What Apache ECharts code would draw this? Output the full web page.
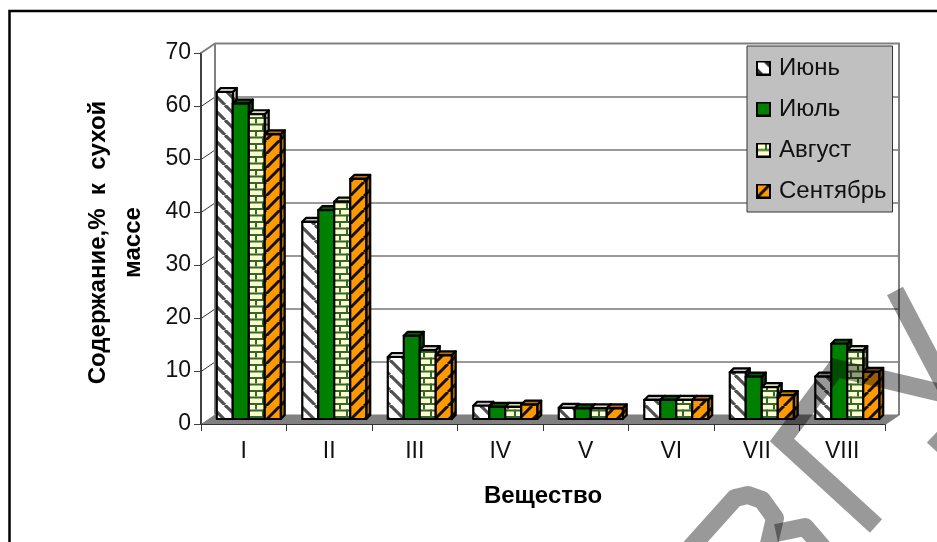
<!DOCTYPE html>
<html><head><meta charset="utf-8">
<style>html,body{margin:0;padding:0;background:#fff}#c{width:937px;height:542px}</style>
<script src="https://cdn.jsdelivr.net/npm/echarts@6/dist/echarts.min.js"></script>
</head><body><div id="c"></div>
<script>
const categories = ['I','II','III','IV','V','VI','VII','VIII'];
const seriesNames = ['Июнь','Июль','Август','Сентябрь'];
const june      = [61.7, 37.2, 11.7, 2.5, 2.1, 3.6, 8.8, 8.0];
const july      = [59.5, 39.4, 15.7, 2.3, 2.0, 3.6, 8.0, 14.2];
const august    = [57.5, 41.0, 13.0, 2.3, 2.0, 3.6, 6.0, 13.0];
const september = [53.7, 45.3, 12.0, 2.7, 2.0, 3.6, 4.5, 8.9];
const seriesValues = [june, july, august, september];
const FONT = '"Liberation Sans", Arial, sans-serif';

function tile(w, h, draw) {
  const c = document.createElement('canvas'); c.width = w; c.height = h;
  draw(c.getContext('2d'), w, h); return c;
}
function stripes(base, ink, dir, lw, size) {
  return tile(size, size, (g, w, h) => {
    g.fillStyle = base; g.fillRect(0, 0, w, h);
    g.strokeStyle = ink; g.lineWidth = lw;
    for (let i = -1; i <= 1; i++) {
      g.beginPath();
      if (dir > 0) { g.moveTo(i * w, 0); g.lineTo(i * w + w, h); }
      else { g.moveTo(i * w + w, 0); g.lineTo(i * w, h); }
      g.stroke();
    }
  });
}
function bricks(base, ink) {
  return tile(14, 13, (g, w, h) => {
    g.fillStyle = base; g.fillRect(0, 0, w, h);
    g.fillStyle = ink;
    g.fillRect(0, 0, w, 2); g.fillRect(0, 6.5, w, 2);
    g.fillRect(3, 0, 2, 6.5); g.fillRect(10, 6.5, 2, 6.5);
  });
}
const faces = [
  { front: stripes('#ffffff', '#505050', 1, 3.2, 15), top: '#c4c4c4', side: stripes('#b8b8b8', '#404040', 1, 3.2, 15) },
  { front: '#008000', top: '#006000', side: '#004800' },
  { front: bricks('#ffffcc', '#336633'), top: '#d8dcb0', side: bricks('#a8a88c', '#2a4a2a') },
  { front: stripes('#ff9900', '#111111', -1, 3, 14), top: '#b87000', side: stripes('#b06a00', '#111111', -1, 3, 14) }
].map(f => ({
  front: f.front.getContext ? { image: f.front, repeat: 'repeat' } : f.front,
  top: f.top,
  side: f.side.getContext ? { image: f.side, repeat: 'repeat' } : f.side
}));

function legendIcon(draw) {
  const c = tile(15, 15, (g, w, h) => {
    draw(g, w, h);
    g.strokeStyle = '#000'; g.lineWidth = 2; g.strokeRect(1, 1, w - 2, h - 2);
  });
  return 'image://' + c.toDataURL();
}
const icons = [
  legendIcon((g, w, h) => { g.fillStyle = '#fff'; g.fillRect(0,0,w,h);
    g.fillStyle='#303030'; g.beginPath(); g.moveTo(6,0); g.lineTo(15,0); g.lineTo(15,9); g.closePath(); g.fill();
    g.beginPath(); g.moveTo(0,6); g.lineTo(9,15); g.lineTo(0,15); g.closePath(); g.fill(); }),
  legendIcon((g, w, h) => { g.fillStyle = '#008000'; g.fillRect(0,0,w,h); }),
  legendIcon((g, w, h) => { g.fillStyle = '#ffffcc'; g.fillRect(0,0,w,h); g.fillStyle='#336633'; g.fillRect(0,6.5,w,2); g.fillRect(9,1,2,6); }),
  legendIcon((g, w, h) => { g.fillStyle = '#ff9900'; g.fillRect(0,0,w,h); g.strokeStyle='#111'; g.lineWidth=3; g.beginPath(); g.moveTo(15,0); g.lineTo(0,15); g.stroke(); })
];

const PLANE = 5, DEPTH = 4, BAR_FRACTION = 0.187;
const WALL_DX = 14, WALL_DY = 9.5;

function renderBar(s) {
  return function (params, api) {
    const k = api.value(0), v = api.value(1);
    const base = api.coord([k, 0]), head = api.coord([k, v]);
    const w = api.size([1, 0])[0] * BAR_FRACTION;
    const x = base[0] + PLANE - 2 * w + s * w;
    const y0 = base[1] - PLANE, yt = head[1] - PLANE;
    const line = { stroke: '#000', lineWidth: 2.2, lineJoin: 'round' };
    return { type: 'group', children: [
      { type: 'polygon', shape: { points: [[x + w, yt], [x + w + DEPTH, yt - DEPTH], [x + w + DEPTH, y0 - DEPTH], [x + w, y0]] }, style: { fill: faces[s].side, ...line } },
      { type: 'polygon', shape: { points: [[x, yt], [x + DEPTH, yt - DEPTH], [x + w + DEPTH, yt - DEPTH], [x + w, yt]] }, style: { fill: faces[s].top, ...line } },
      { type: 'rect', shape: { x: x, y: yt, width: w, height: y0 - yt }, style: { fill: faces[s].front, ...line } }
    ] };
  };
}
function renderFrame(params, api) {
  const cs = params.coordSys;
  const L = cs.x, R = cs.x + cs.width, kids = [];
  const y0 = api.coord([0, 0])[1];
  kids.push({ type: 'polygon', shape: { points: [[L, y0], [R, y0], [R + WALL_DX, y0 - WALL_DY], [L + WALL_DX, y0 - WALL_DY]] }, style: { fill: '#808080' } });
  for (let t = 10; t <= 60; t += 10) {
    const y = Math.round(api.coord([0, t])[1]) + 0.5;
    kids.push({ type: 'polyline', shape: { points: [[L, y], [L + WALL_DX, y - WALL_DY], [R + WALL_DX, y - WALL_DY]] }, style: { fill: 'none', stroke: '#333', lineWidth: 1 } });
  }
  const yTop = api.coord([0, 70])[1];
  kids.push({ type: 'polyline', shape: { points: [[L, yTop], [L + WALL_DX, yTop - WALL_DY], [R + WALL_DX, yTop - WALL_DY], [R + WALL_DX, y0 - WALL_DY], [R, y0]] }, style: { fill: 'none', stroke: '#808080', lineWidth: 2 } });
  kids.push({ type: 'line', shape: { x1: L + WALL_DX, y1: yTop - WALL_DY, x2: L + WALL_DX, y2: y0 - WALL_DY }, style: { stroke: '#808080', lineWidth: 2 } });
  return { type: 'group', children: kids };
}

const chart = echarts.init(document.getElementById('c'), null, { renderer: 'canvas' });
const mark = { fill: 'none', stroke: 'rgba(0,0,0,0.4)', lineWidth: 18, lineJoin: 'miter', lineCap: 'butt' };
chart.setOption({
  animation: false,
  backgroundColor: '#ffffff',
  textStyle: { fontFamily: FONT },
  grid: { left: 201, right: 52, top: 53, bottom: 118 },
  legend: {
    data: seriesNames.map((n, i) => ({ name: n, icon: icons[i] })),
    orient: 'vertical', left: 747, top: 46,
    padding: [10, 6, 9, 9], itemWidth: 15, itemHeight: 15, itemGap: 17,
    backgroundColor: '#c0c0c0', borderColor: '#333', borderWidth: 1,
    textStyle: { fontFamily: FONT, fontSize: 24, color: '#111', lineHeight: 24, padding: [0, 0, 0, 3] }
  },
  xAxis: {
    type: 'category', data: categories,
    axisLine: { lineStyle: { color: '#333', width: 2 } },
    axisTick: { show: true, length: 7, lineStyle: { color: '#333', width: 1 } },
    axisLabel: { fontFamily: FONT, fontSize: 23, color: '#111', margin: 16 },
    splitLine: { show: false },
    name: 'Вещество', nameLocation: 'middle', nameGap: 60,
    nameTextStyle: { fontFamily: FONT, fontSize: 24, fontWeight: 'bold', color: '#000' }
  },
  yAxis: {
    type: 'value', min: 0, max: 70, interval: 10,
    axisLine: { show: true, lineStyle: { color: '#404040', width: 2 } },
    axisTick: { show: true, length: 7, lineStyle: { color: '#404040', width: 1 } },
    axisLabel: { fontFamily: FONT, fontSize: 23, color: '#111', margin: 10 },
    splitLine: { show: false },
    name: 'Содержание,%  к  сухой\nмассе', nameLocation: 'middle', nameRotate: 90, nameGap: 50,
    nameTextStyle: { fontFamily: FONT, fontSize: 24, fontWeight: 'bold', color: '#000', lineHeight: 35, padding: [0, 8, 0, 0] }
  },
  series: [
    { type: 'custom', name: 'frame', silent: true, z: 1, data: [[0, 0]], encode: { x: 0, y: 1 }, renderItem: renderFrame }
  ].concat(seriesNames.map((n, s) => ({
    type: 'custom', name: n, z: 2 + s,
    data: seriesValues[s].map((v, i) => [i, v]),
    encode: { x: 0, y: 1 },
    renderItem: renderBar(s)
  }))),
  graphic: [
    { type: 'polyline', silent: true, z: 200, shape: { points: [[9.5, 542], [9.5, 11], [937, 11]] }, style: { fill: 'none', stroke: '#000', lineWidth: 2.5 } },
    { type: 'polyline', silent: true, z: 300, shape: { points: [[876, 526], [782, 440], [836, 368], [945, 394]] }, style: mark },
    { type: 'polyline', silent: true, z: 300, shape: { points: [[895, 291], [945, 386]] }, style: mark },
    { type: 'polyline', silent: true, z: 300, shape: { points: [[933, 436], [950, 452]] }, style: mark },
    { type: 'polyline', silent: true, z: 300, shape: { points: [[683, 556], [735, 498], [748, 495], [762, 500], [775, 518], [768, 548]] }, style: { ...mark, lineJoin: 'round' } },
    { type: 'polyline', silent: true, z: 300, shape: { points: [[776, 533], [805, 527], [830, 556]] }, style: { ...mark, lineJoin: 'round' } }
  ]
});
</script></body></html>
